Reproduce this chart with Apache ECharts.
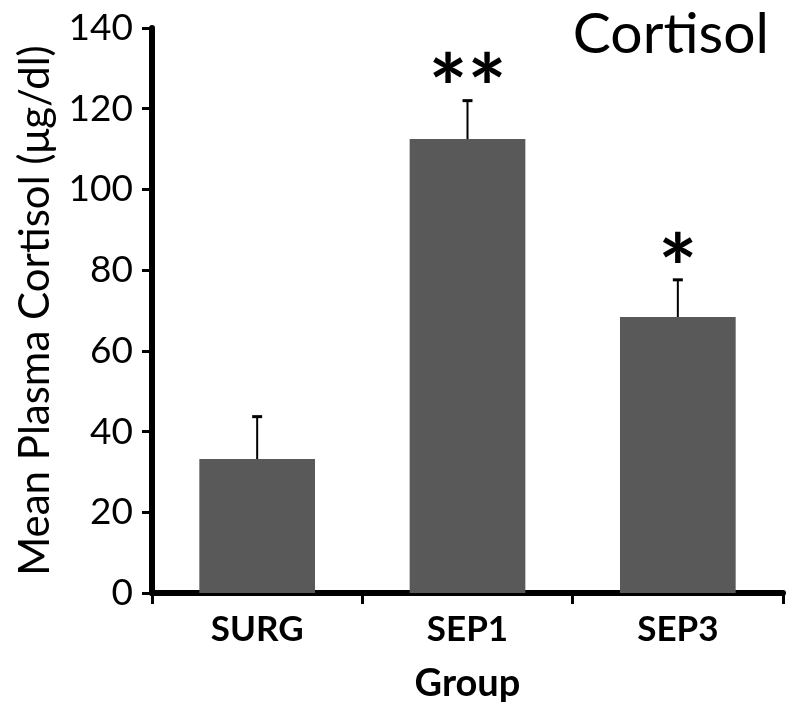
<!DOCTYPE html>
<html>
<head>
<meta charset="utf-8">
<script src="https://cdn.jsdelivr.net/npm/echarts@6/dist/echarts.min.js"></script>
<style>
html,body{margin:0;padding:0;background:#fff;}
#chart{width:800px;height:713px;}
</style>
</head>
<body>
<div id="chart"></div>
<script>
var categories = ['SURG', 'SEP1', 'SEP3'];
var meanValues = [33.2, 112.5, 68.4];
var errorValues = [10.5, 9.5, 9.2];
var significance = ['', '**', '*'];
var yTicks = [0, 20, 40, 60, 80, 100, 120, 140];

var FONT = 'Lato';
var chart = echarts.init(document.getElementById('chart'), null, {renderer: 'canvas'});

var errData = categories.map(function (c, i) {
  return [i, meanValues[i], meanValues[i] + errorValues[i], significance[i]];
});

var option = {
  backgroundColor: '#ffffff',
  animation: false,
  title: {
    text: 'Cortisol',
    right: 26,
    top: 1,
    textStyle: {fontFamily: FONT, fontSize: 57, fontWeight: 'normal', color: '#000'}
  },
  grid: {left: 152, right: 17, top: 28, bottom: 120, containLabel: false, outerBoundsMode: 'none'},
  xAxis: {
    type: 'category',
    data: categories,
    name: 'Group',
    nameLocation: 'middle',
    nameGap: 72,
    nameTextStyle: {fontFamily: FONT, fontSize: 38, fontWeight: 'bold', color: '#000'},
    axisLine: {lineStyle: {color: '#000', width: 6}},
    axisTick: {show: true, length: 11, lineStyle: {color: '#000', width: 3}, alignWithLabel: false},
    axisLabel: {fontFamily: FONT, fontSize: 35, fontWeight: 'bold', color: '#000', margin: 19}
  },
  yAxis: {
    type: 'value',
    min: yTicks[0],
    max: yTicks[yTicks.length - 1],
    interval: 20,
    name: 'Mean Plasma Cortisol (μg/dl)',
    nameLocation: 'middle',
    nameGap: 96,
    nameTextStyle: {fontFamily: FONT, fontSize: 42, color: '#000'},
    axisLine: {show: true, lineStyle: {color: '#000', width: 6}},
    axisTick: {show: true, length: 10, lineStyle: {color: '#000', width: 3}},
    axisLabel: {fontFamily: FONT, fontSize: 37, color: '#000', margin: 19},
    splitLine: {show: false}
  },
  series: [
    {
      type: 'bar',
      data: meanValues,
      barWidth: '55%',
      itemStyle: {color: '#595959'},
      z: 2
    },
    {
      type: 'custom',
      data: errData,
      z: 3,
      renderItem: function (params, api) {
        var x = api.value(0);
        var base = api.coord([x, api.value(1)]);
        var top = api.coord([x, api.value(2)]);
        var capHalf = 5;
        var children = [
          {type: 'line', shape: {x1: base[0], y1: base[1], x2: top[0], y2: top[1]},
           style: {stroke: '#000', lineWidth: 2}},
          {type: 'line', shape: {x1: top[0] - capHalf, y1: top[1], x2: top[0] + capHalf, y2: top[1]},
           style: {stroke: '#000', lineWidth: 3}}
        ];
        var sig = api.value(3);
        if (sig) {
          children.push({
            type: 'text',
            style: {
              text: sig, x: top[0], y: top[1] + 38,
              fill: '#000',
              font: 'bold 92px ' + FONT,
              textAlign: 'center', textVerticalAlign: 'bottom'
            }
          });
        }
        return {type: 'group', children: children};
      }
    }
  ]
};
chart.setOption(option);
</script>
</body>
</html>
